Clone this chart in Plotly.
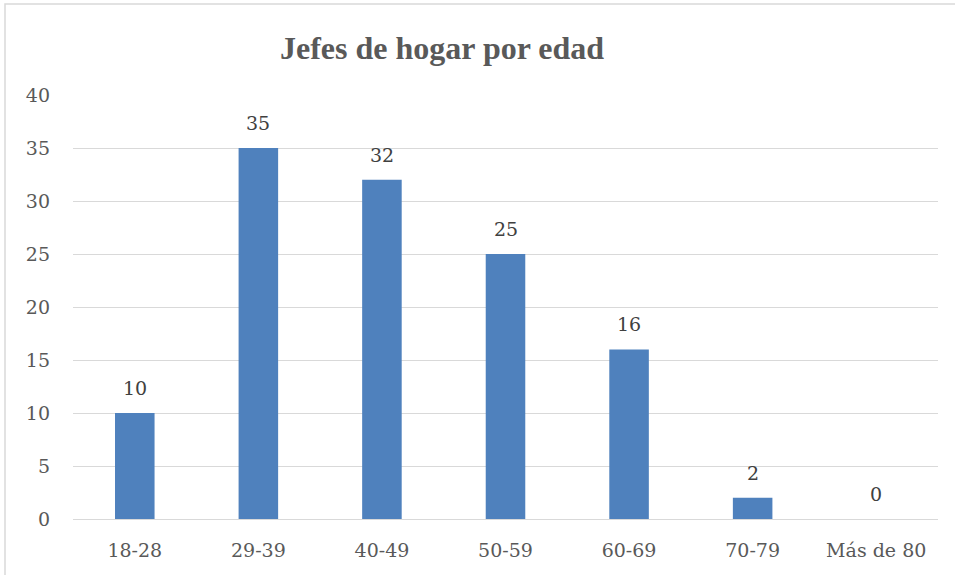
import plotly.graph_objects as go

categories = ["18-28", "29-39", "40-49", "50-59", "60-69", "70-79", "Más de 80"]
values = [10, 35, 32, 25, 16, 2, 0]
y_ticks = [0, 5, 10, 15, 20, 25, 30, 35, 40]

W, H = 955, 575
ml, mr, mt, mb = 73, 17, 95, 56
pw, ph = W - ml - mr, H - mt - mb

def px_x(x):
    return (x - ml) / pw

def px_y(y):
    return 1 - (y - mt) / ph

fig = go.Figure(go.Bar(
    x=categories, y=values,
    marker=dict(color="#4F81BD", line=dict(width=0)),
    hoverinfo="x+y",
))

annotations = [
    dict(x=c, y=v, xref="x", yref="y", text=str(v), showarrow=False,
         yanchor="bottom", yshift=12,
         font=dict(family="DejaVu Serif", size=19, color="#404040"))
    for c, v in zip(categories, values)
]
annotations.append(dict(
    text="<b>Jefes de hogar por edad</b>", xref="paper", yref="paper",
    x=px_x(442), y=px_y(48), xanchor="center", yanchor="middle", showarrow=False,
    font=dict(family="Liberation Serif", size=32, color="#595959")))

fig.update_layout(
    width=W, height=H,
    margin=dict(l=ml, r=mr, t=mt, b=mb),
    paper_bgcolor="white", plot_bgcolor="white",
    bargap=0.68,
    showlegend=False,
    annotations=annotations,
    xaxis=dict(showgrid=False, showline=False, ticks="", automargin=False,
               ticklabelstandoff=18,
               tickfont=dict(family="DejaVu Serif", size=19, color="#595959")),
    yaxis=dict(range=[0, 40], tickvals=y_ticks, showgrid=True, gridcolor="#D9D9D9",
               gridwidth=1.2, zeroline=True, zerolinecolor="#D9D9D9", zerolinewidth=1.2,
               ticks="", ticklabelstandoff=22, automargin=False,
               tickfont=dict(family="DejaVu Serif", size=19, color="#595959")),
    shapes=[dict(type="rect", xref="paper", yref="paper",
                 x0=px_x(5), x1=px_x(965), y0=px_y(585), y1=px_y(4),
                 line=dict(color="#D9D9D9", width=1.5), layer="below")],
)

fig.write_html("out.html", config={"displayModeBar": False},
               post_script="document.body.style.margin='0';document.body.style.overflow='hidden';")
